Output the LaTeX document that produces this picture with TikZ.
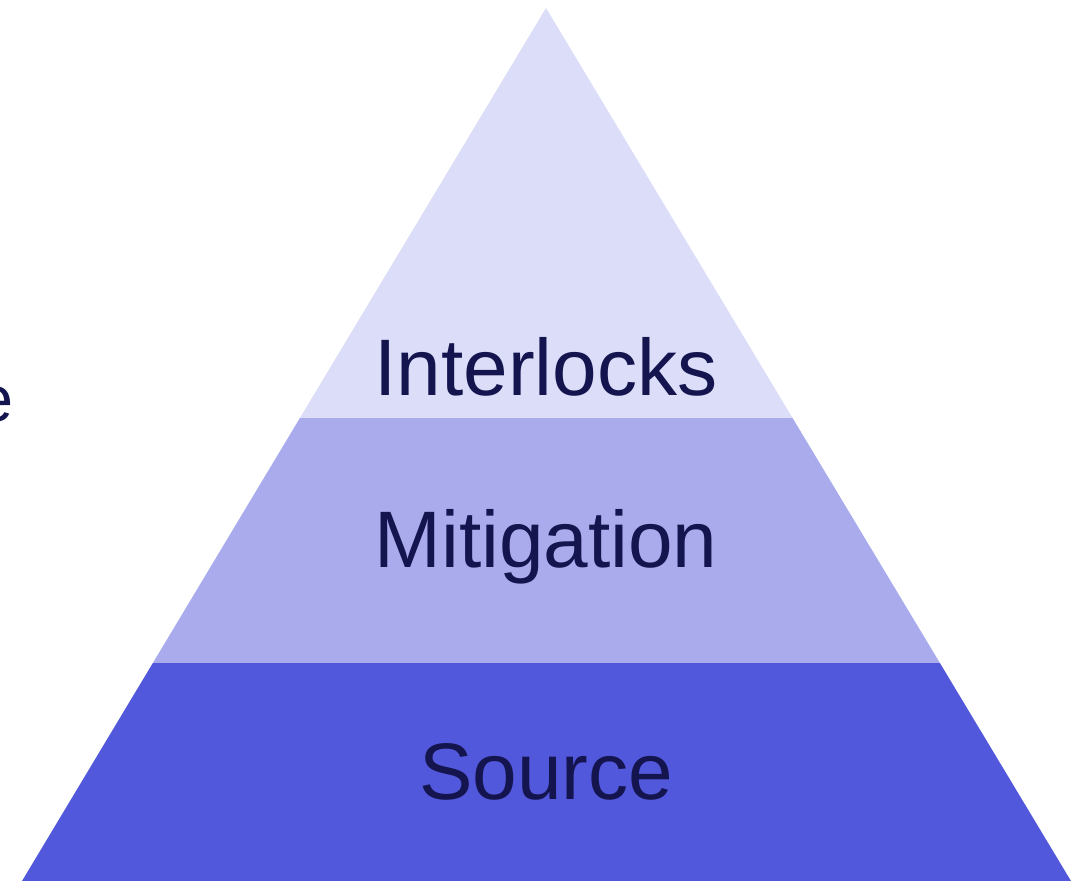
\documentclass[tikz,border=0pt]{standalone}
\usepackage{fontspec}
\setmainfont{Liberation Sans}
\usetikzlibrary{calc}

\definecolor{tierTop}{HTML}{DCDDF8}
\definecolor{tierMid}{HTML}{A9ABEC}
\definecolor{tierLow}{HTML}{5258DC}
\definecolor{tierText}{HTML}{14154F}

\begin{document}
\begin{tikzpicture}[x=0.025cm, y=-0.025cm,
    tierlabel/.style={text=tierText, font=\fontsize{57}{67}\selectfont, anchor=base, inner sep=0pt}]
  % page frame (pixel grid of the reference)
  \useasboundingbox (0,0) rectangle (1079,881);

  % 1. Pyramid corners and band limits
  \coordinate (Apex) at (546,8);
  \coordinate (BaseL) at (22,881);
  \coordinate (BaseR) at (1071,881);
  \def\tA{0.4697}
  \def\tB{0.7503}
  \coordinate (UpL) at ($(Apex)!\tA!(BaseL)$);
  \coordinate (UpR) at ($(Apex)!\tA!(BaseR)$);
  \coordinate (LoL) at ($(Apex)!\tB!(BaseL)$);
  \coordinate (LoR) at ($(Apex)!\tB!(BaseR)$);

  % 2. Bands (top to bottom)
  \fill[tierTop] (Apex) -- (UpR) -- (UpL) -- cycle;
  \fill[tierMid] (UpL) -- (UpR) -- (LoR) -- (LoL) -- cycle;
  \fill[tierLow] (LoL) -- (LoR) -- (BaseR) -- (BaseL) -- cycle;

  % 3. Labels
  \node[tierlabel] (interlocks) at (546,395) {Interlocks};
  \node[tierlabel] (mitigation) at (546,567) {Mitigation};
  \node[tierlabel] (source) at (546,799) {Source};

  % 4. cut-off text at the left border
  \node[text=tierText, font=\fontsize{46}{55}\selectfont, anchor=base east, inner sep=0pt]
    (cutoff) at (14,421) {e};
\end{tikzpicture}
\end{document}
